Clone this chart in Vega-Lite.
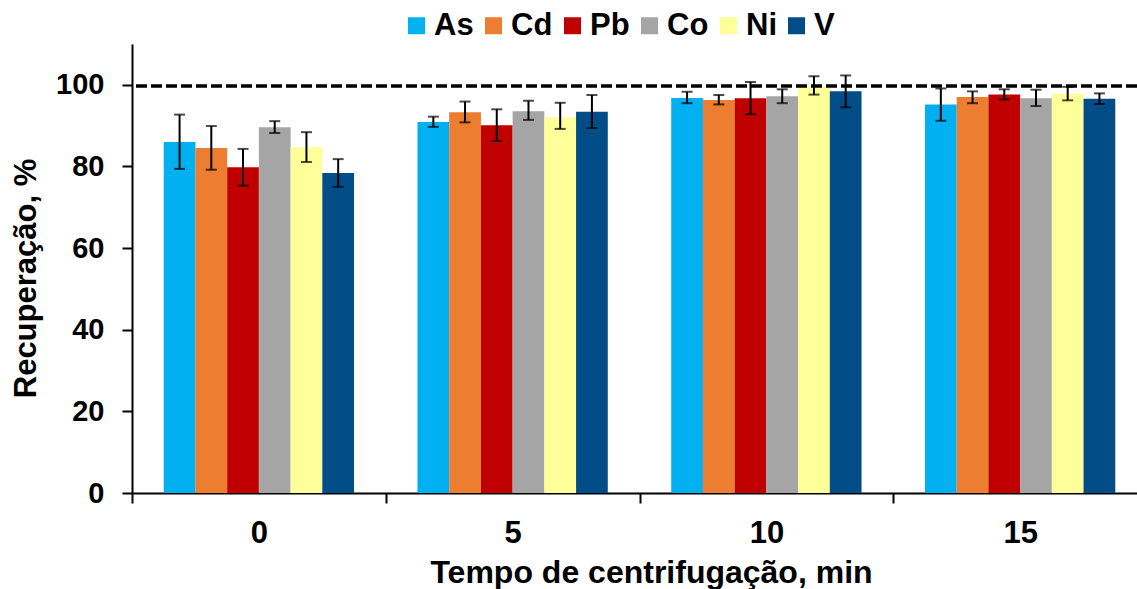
{
  "$schema": "https://vega.github.io/schema/vega-lite/v6.json",
  "width": 1005,
  "height": 449,
  "autosize": {"type": "none"},
  "padding": {"left": 132, "top": 44, "right": 0, "bottom": 96},
  "background": "white",
  "config": {
    "view": {"stroke": null},
    "font": "Liberation Sans",
    "axis": {"labelFont": "Liberation Sans", "titleFont": "Liberation Sans", "labelFontWeight": "bold", "titleFontWeight": "bold", "labelColor": "black", "titleColor": "black", "domainColor": "black", "tickColor": "black", "domainWidth": 2, "tickWidth": 2, "tickSize": 10, "grid": false},
    "legend": {"labelFont": "Liberation Sans", "labelFontWeight": "bold"}
  },
  "data": {
    "values": [
      {"time": "0", "el": "As", "value": 86.0, "lo": 79.4, "hi": 92.7},
      {"time": "0", "el": "Cd", "value": 84.5, "lo": 79.2, "hi": 89.9},
      {"time": "0", "el": "Pb", "value": 79.8, "lo": 75.3, "hi": 84.3},
      {"time": "0", "el": "Co", "value": 89.6, "lo": 88.2, "hi": 91.1},
      {"time": "0", "el": "Ni", "value": 84.7, "lo": 81.1, "hi": 88.4},
      {"time": "0", "el": "V", "value": 78.4, "lo": 75.0, "hi": 81.8},
      {"time": "5", "el": "As", "value": 90.9, "lo": 89.7, "hi": 92.2},
      {"time": "5", "el": "Cd", "value": 93.3, "lo": 90.8, "hi": 95.9},
      {"time": "5", "el": "Pb", "value": 90.1, "lo": 86.2, "hi": 94.0},
      {"time": "5", "el": "Co", "value": 93.5, "lo": 91.4, "hi": 96.1},
      {"time": "5", "el": "Ni", "value": 92.0, "lo": 89.2, "hi": 95.6},
      {"time": "5", "el": "V", "value": 93.4, "lo": 89.4, "hi": 97.5},
      {"time": "10", "el": "As", "value": 96.8, "lo": 95.5, "hi": 98.3},
      {"time": "10", "el": "Cd", "value": 96.3, "lo": 95.2, "hi": 97.5},
      {"time": "10", "el": "Pb", "value": 96.7, "lo": 92.8, "hi": 100.7},
      {"time": "10", "el": "Co", "value": 97.2, "lo": 95.5, "hi": 98.9},
      {"time": "10", "el": "Ni", "value": 99.6, "lo": 97.6, "hi": 102.1},
      {"time": "10", "el": "V", "value": 98.4, "lo": 94.5, "hi": 102.3},
      {"time": "15", "el": "As", "value": 95.2, "lo": 91.2, "hi": 99.1},
      {"time": "15", "el": "Cd", "value": 97.0, "lo": 95.5, "hi": 98.4},
      {"time": "15", "el": "Pb", "value": 97.6, "lo": 96.4, "hi": 98.9},
      {"time": "15", "el": "Co", "value": 96.7, "lo": 94.8, "hi": 98.8},
      {"time": "15", "el": "Ni", "value": 97.8, "lo": 96.2, "hi": 99.5},
      {"time": "15", "el": "V", "value": 96.6, "lo": 95.3, "hi": 97.9}
    ]
  },
  "encoding": {
    "x": {
      "field": "time", "type": "nominal", "sort": ["0", "5", "10", "15"],
      "scale": {"range": [0, 1015], "paddingInner": 0, "paddingOuter": 0},
      "axis": {"labelAngle": 0, "labelFontSize": 31, "labelPadding": 15, "tickBand": "extent",
        "title": "Tempo de centrifugação, min", "titleFontSize": 32, "titleX": 519, "titleY": 89, "titleBaseline": "alphabetic", "titleAlign": "center", "titleAnchor": null}
    },
    "xOffset": {"field": "el", "type": "nominal", "sort": ["As", "Cd", "Pb", "Co", "Ni", "V"], "scale": {"paddingInner": 0, "paddingOuter": 1.115}}
  },
  "layer": [
    {
      "mark": {"type": "bar"},
      "encoding": {
        "y": {"field": "value", "type": "quantitative", "scale": {"domain": [0, 110], "nice": false},
          "axis": {"values": [0, 20, 40, 60, 80, 100], "labelFontSize": 29, "labelPadding": 18,
            "title": "Recuperação, %", "titleFontSize": 31, "titleAngle": -90, "titleX": -97, "titleY": 234, "titleBaseline": "alphabetic", "titleAlign": "center", "titleAnchor": null}},
        "color": {"field": "el", "type": "nominal", "sort": ["As", "Cd", "Pb", "Co", "Ni", "V"],
          "scale": {"domain": ["As", "Cd", "Pb", "Co", "Ni", "V"], "range": ["#00B0F0", "#ED7D31", "#C00000", "#A5A5A5", "#FFFF99", "#004D87"]},
          "legend": {"title": null, "orient": "none", "direction": "horizontal", "legendX": 269, "legendY": -34,
            "symbolType": "square", "symbolSize": 289, "symbolStrokeWidth": 0, "labelFontSize": 31, "labelOffset": 2, "columnPadding": 4, "labelColor": "black", "padding": 0}}
      }
    },
    {
      "mark": {"type": "rule", "color": "black", "strokeWidth": 2},
      "encoding": {"y": {"field": "lo", "type": "quantitative"}, "y2": {"field": "hi"}}
    },
    {
      "mark": {"type": "tick", "color": "black", "thickness": 2, "size": 11, "orient": "horizontal"},
      "encoding": {"y": {"field": "lo", "type": "quantitative"}}
    },
    {
      "mark": {"type": "tick", "color": "black", "thickness": 2, "size": 11, "orient": "horizontal"},
      "encoding": {"y": {"field": "hi", "type": "quantitative"}}
    },
    {
      "data": {"values": [{"ref": 99.7}]},
      "mark": {"type": "rule", "color": "black", "strokeWidth": 3.5, "strokeDash": [11, 4]},
      "encoding": {"x": null, "xOffset": null, "y": {"field": "ref", "type": "quantitative"}}
    }
  ]
}
